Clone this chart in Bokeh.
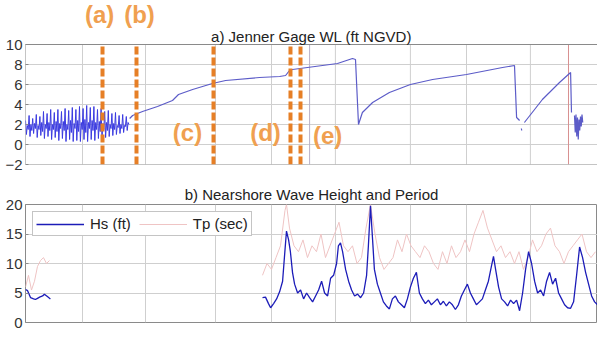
import numpy as np
from bokeh.plotting import figure
from bokeh.layouts import column
from bokeh.models import Range1d, FixedTicker, Label, Legend, LegendItem
from bokeh.embed import file_html
from bokeh.resources import INLINE

# ---------------- data (x in days from start of record) ----------------
grid_days = [19, 40, 63.3, 82, 103.3, 128.3, 147, 168.3]
wl_yticks = [-2, 0, 2, 4, 6, 8, 10]
wave_yticks = [0, 5, 10, 15, 20]

# Jenner gage water level: tidal period (samples every 0.3 day)
tide_t0 = 0.0
tide_dt = 0.3
tide_wl = [
    2.4, 1.0, 1.9, 1.5, 2.9, 0.8, 2.0, 1.4, 2.6, 1.1, 2.1, 1.6,
    3.0, 0.7, 1.9, 1.5, 2.8, 0.9, 2.2, 1.3, 3.3, 0.6, 2.0, 1.6,
    3.1, 0.8, 2.2, 1.4, 3.5, 0.5, 2.0, 1.5, 3.2, 0.7, 2.3, 1.3,
    3.5, 0.4, 2.1, 1.6, 3.3, 0.6, 2.3, 1.4, 3.6, 0.3, 2.0, 1.5,
    3.4, 0.5, 2.4, 1.2, 3.7, 0.3, 2.1, 1.6, 3.5, 0.4, 2.4, 1.3,
    3.8, 0.3, 2.2, 1.5, 3.6, 0.5, 2.5, 1.2, 3.9, 0.3, 2.2, 1.6,
    3.7, 0.5, 2.4, 1.4, 3.8, 0.4, 2.2, 1.5, 3.5, 0.6, 2.3, 1.3,
    3.6, 0.5, 2.1, 1.5, 3.3, 0.7, 2.2, 1.4, 3.4, 0.8, 2.0, 1.6,
    3.1, 0.9, 2.1, 1.5, 3.2, 1.0, 1.9, 1.7, 2.9, 1.1, 2.0, 1.6,
    3.0, 1.2, 1.9, 1.8, 2.8, 1.4, 2.2, 2.0,
]
# Lagoon closed periods (NaN = gap in record)
wl_day = [34.7, 35.7, 39, 44, 49, 50, 51, 55.7, 62.3, 66.7, 78, 84.7, 86.7, 88, 89,
          99, 104, 109, 110, 111, 112.3, 115.7, 121.3, 128.3, 135.7, 147, 159, 163,
          163.7, 164.7, 165.0, 165.3, 165.4, 165.8, 166.3, 172.3, 178, 181.7, 182, 182.5,
          183.0, 183.25, 183.5, 183.75, 184.0, 184.25, 184.5, 184.75, 185.0, 185.25, 185.5, 185.75]
wl_val = [2.6, 2.9, 3.3, 3.8, 4.4, 4.7, 5.0, 5.5, 6.1, 6.4, 6.7, 6.8, 6.9, 7.4, 7.5,
          7.9, 8.1, 8.6, 8.5, 2.0, 3.2, 4.2, 5.2, 6.0, 6.5, 7.0, 7.7, 7.9,
          2.7, 2.4, np.nan, 1.6, 1.4, np.nan, 2.2, 4.5, 6.2, 7.2, 3.2, np.nan,
          2.9, 1.2, 3.0, 0.8, 2.7, 0.5, 2.5, 1.4, 2.8, 1.8, 3.0, 2.2]

event_days = [25.67, 37, 62.67, 88.33, 91.67]
event_labels = ["(a)", "(b)", "(c)", "(d)", "(e)"]
label_day = [24.7, 38, 54, 80, 100.7]
label_val = [13.0, 13.0, 1.2, 1.2, 0.9]
marker_days = [94.7]
breach_days = [181]

# Nearshore wave height (ft)
hs_day = [0, 0.7, 1.7, 2.7, 3.3, 4, 4.7, 5.7, 6.3, 7.3, 8.3, 8.6,
          79, 80, 81, 81.7, 82.7, 83.7, 84.7, 85.7, 86.3, 87, 87.7, 88.3, 89, 89.7,
          90.7, 91.7, 92.7, 93.7, 94.7, 95.7, 96.7, 97.7, 98.7, 99.7, 100.7, 101.7,
          102.7, 103.7, 104.3, 105, 105.7, 106.7, 107.7, 108.7, 109.7, 110.7, 111.7,
          112.7, 113.7, 114.3, 115, 115.7, 116.3, 117.3, 118.3, 119.3, 120.3, 121.3,
          122.3, 123.3, 124.3, 125.3, 126.3, 127.3, 128.3, 129.3, 130.3, 131.3, 132.3,
          133.3, 134.3, 135.3, 136.3, 137.3, 138.3, 139.3, 140.3, 141.3, 142.3, 143.3,
          144.3, 145.3, 146.3, 147.3, 148.3, 149.3, 150.3, 151.3, 152.3, 153.3, 154.3,
          155.3, 156, 156.7, 157.7, 158.7, 159.7, 160.7, 161.7, 162.7, 163.7, 164.7,
          165.7, 166.7, 167.7, 168.7, 169.7, 170.7, 171.7, 172.7, 173.7, 174.7, 175.7,
          176.7, 177.7, 178.7, 179.7, 180.7, 181.7, 182.7, 183.7, 184.7, 185.7, 186.7,
          187.7, 188.7, 189.7, 190.7]
hs_val = [5.6, 5.4, 4.2, 4.0, 3.9, 4.1, 4.3, 4.5, 4.8, 4.4, 4.0, np.nan,
          4.2, 4.3, 3.2, 2.5, 3.2, 4.0, 5.2, 7.0, 11.0, 15.5, 14.0, 12.0, 8.5, 6.5,
          5.0, 5.5, 4.0, 5.0, 4.2, 3.5, 4.5, 5.5, 7.0, 5.0, 4.5, 7.5,
          8.0, 10.0, 13.0, 13.5, 12.0, 9.0, 7.0, 5.5, 4.5, 4.8, 4.2,
          5.0, 8.0, 13.0, 19.8, 14.0, 9.0, 6.5, 5.0, 3.5, 2.8, 2.3,
          4.0, 4.5, 3.5, 3.0, 2.5, 4.0, 6.0, 7.5, 8.5, 5.0, 4.0,
          3.2, 3.8, 3.0, 3.5, 4.0, 3.0, 3.6, 2.8, 3.5, 3.0, 2.2,
          3.0, 4.5, 5.5, 6.5, 5.0, 4.0, 3.0, 3.5, 4.0, 5.5, 7.0,
          9.5, 11.2, 9.0, 6.0, 4.0, 3.5, 2.8, 3.8, 3.2, 3.8, 2.0,
          5.0, 9.0, 12.0, 10.0, 7.0, 5.0, 5.5, 4.5, 7.0, 8.5, 6.5,
          7.5, 5.0, 4.0, 3.0, 2.5, 2.4, 3.5, 8.0, 12.8, 11.0, 8.5,
          6.5, 4.5, 3.5, 3.0]

# Nearshore peak period (sec)
tp_day = [0, 1, 2, 3, 4, 5, 6, 7, 8, 8.6,
          79, 80.5, 82, 83.5, 85, 86.5, 87, 88, 89.5, 91, 92.5, 94, 95.5, 97, 98.5,
          100, 101.5, 103, 104.5, 106, 107.5, 109, 110.5, 112, 113.5, 115, 116.5,
          118, 119.5, 121, 122.5, 124, 125.5, 127, 128.5, 130, 131.5, 133, 134.5,
          136, 137.5, 139, 140.5, 142, 143.5, 145, 146.5, 148, 149.5, 151, 152.5,
          154, 155.5, 157, 158.5, 160, 161.5, 163, 164.5, 166, 167.5, 169, 170.5,
          172, 173.5, 175, 176.5, 178, 179.5, 181, 182.5, 184, 185.5, 187, 188.5, 190]
tp_val = [6, 8, 5.5, 7, 9.5, 10.5, 11, 10, 10.5, np.nan,
          8, 10, 9, 11, 13, 19, 20, 16, 13, 12, 14, 11, 13, 12, 15,
          11, 13, 15, 17, 13, 12, 13, 10, 11, 16, 20, 15,
          11, 9, 10, 11, 14, 12, 15, 13, 12, 11, 13, 12,
          10, 9, 12, 10, 13, 11, 12, 14, 12, 15, 17, 19,
          16, 14, 12, 13, 11, 12, 10, 12, 9, 11, 14, 12,
          13, 15, 16, 13, 12, 10, 12, 13, 14, 15, 12, 11, 12]

# ---------------- styling ----------------
FONT = "Liberation Sans"
ORANGE = "#e67f26"
ORANGE_TXT = "#f0a050"
GRID = "#cfcfcf"
FRAME = "#8a8a8a"
X_END = 190.67
WL_MIN, WL_MAX = -2, 10


def style_y(p, yticks):
    p.xaxis.visible = False
    p.yaxis.ticker = FixedTicker(ticks=yticks)
    p.ygrid.ticker = FixedTicker(ticks=yticks)
    p.ygrid.grid_line_color = GRID
    p.yaxis.axis_line_color = None
    p.yaxis.major_tick_line_color = FRAME
    p.yaxis.major_tick_in = 3
    p.yaxis.major_tick_out = 0
    p.yaxis.minor_tick_line_color = None
    p.yaxis.major_label_standoff = 3
    p.yaxis.major_label_text_font = FONT
    p.yaxis.major_label_text_font_size = "15px"
    p.yaxis.major_label_text_color = "#333333"


# ---------------- top panel (frame extended upward to hold the event labels) ----------------
p1 = figure(width=597, height=172, output_backend="svg", toolbar_location=None,
            x_range=Range1d(0, X_END), y_range=Range1d(-2, 14.4),
            min_border_left=25, min_border_right=0, min_border_top=0, min_border_bottom=8)
style_y(p1, wl_yticks)
p1.outline_line_color = None
p1.xgrid.visible = False

# vertical grid lines limited to the axes box
p1.segment(x0=grid_days, x1=grid_days, y0=WL_MIN, y1=WL_MAX, line_color=GRID, line_width=1)
p1.segment(x0=marker_days, x1=marker_days, y0=WL_MIN, y1=WL_MAX, line_color="#b8b0c8", line_width=1)
p1.segment(x0=breach_days, x1=breach_days, y0=WL_MIN, y1=WL_MAX, line_color="#d89090", line_width=1)
# axes box
p1.quad(left=0, right=X_END, bottom=WL_MIN, top=WL_MAX, fill_color=None,
        line_color=FRAME, line_width=1)

tide_day = tide_t0 + tide_dt * np.arange(len(tide_wl))
p1.line(tide_day, tide_wl, line_color="#3b3be0", line_width=1)
p1.line(wl_day, wl_val, line_color="#5c5cc8", line_width=1.2)

p1.segment(x0=event_days, x1=event_days, y0=WL_MIN, y1=WL_MAX, line_color=ORANGE,
           line_width=4, line_dash="8 3")
for t, x, y in zip(event_labels, label_day, label_val):
    p1.add_layout(Label(x=x, y=y, text=t, text_font=FONT, text_font_size="24px",
                        text_font_style="bold", text_color=ORANGE_TXT,
                        text_align="center", text_baseline="middle"))
p1.add_layout(Label(x=X_END / 2, y=10.85, text="a) Jenner Gage WL (ft NGVD)",
                    text_font=FONT, text_font_size="15px", text_color="#222222",
                    text_align="center", text_baseline="alphabetic"))

# ---------------- bottom panel ----------------
p2 = figure(width=597, height=157, output_backend="svg", toolbar_location=None,
            x_range=Range1d(0, X_END), y_range=Range1d(0, 20),
            min_border_left=25, min_border_right=0, min_border_top=32, min_border_bottom=7,
            title="b) Nearshore Wave Height and Period")
style_y(p2, wave_yticks)
p2.outline_line_color = FRAME
p2.xgrid.ticker = FixedTicker(ticks=grid_days)
p2.xgrid.grid_line_color = GRID
p2.title.text_font = FONT
p2.title.text_font_size = "15px"
p2.title.text_font_style = "normal"
p2.title.text_color = "#222222"
p2.title.align = "center"
p2.title.standoff = 3

r_tp = p2.line(tp_day, tp_val, line_color="#efc4c4", line_width=1)
r_hs = p2.line(hs_day, hs_val, line_color="#1c1cb8", line_width=1.3)

legend = Legend(items=[LegendItem(label="Hs (ft)", renderers=[r_hs]),
                       LegendItem(label="Tp (sec)", renderers=[r_tp])],
                orientation="horizontal", location="top_left")
legend.label_text_font = FONT
legend.label_text_font_size = "15px"
legend.label_text_color = "#222222"
legend.glyph_width = 48
legend.glyph_height = 16
legend.label_height = 16
legend.padding = 3
legend.spacing = 8
legend.margin = 7
legend.label_standoff = 6
legend.border_line_color = "#8a8a8a"
legend.background_fill_alpha = 1
p2.add_layout(legend)

layout = column(p1, p2, spacing=0)
open("out.html", "w").write(file_html(layout, INLINE))
